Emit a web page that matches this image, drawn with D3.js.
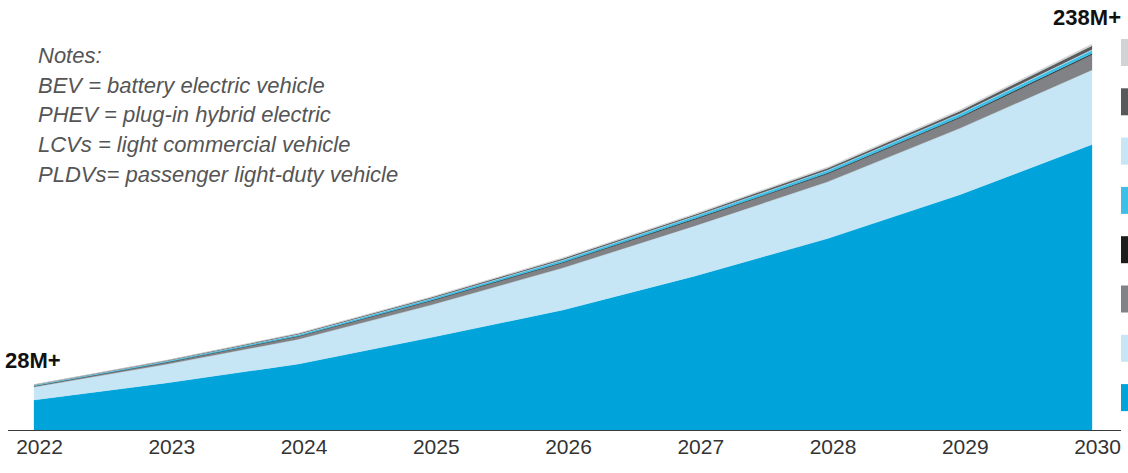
<!DOCTYPE html>
<html>
<head>
<meta charset="utf-8">
<script src="https://cdn.jsdelivr.net/npm/d3@7/dist/d3.min.js"></script>
<style>
  html, body { margin: 0; padding: 0; background: #fff; }
  svg { display: block; font-family: "Liberation Sans", Arial, sans-serif; }
</style>
</head>
<body>
<svg id="chart" width="1128" height="473"></svg>
<script>
// ---- data (millions of vehicles, stacked bottom -> top) ----
const years = [2022, 2023, 2024, 2025, 2026, 2027, 2028, 2029, 2030];
const bevPldv      = [18.5, 29.0, 40.7, 57.0, 74.0, 95.0, 118.0, 145.0, 176.0];
const phevPldv     = [8.0, 11.5, 15.3, 20.0, 26.0, 31.0, 35.0, 41.0, 46.0];
const grayLayer    = [0.6, 1.1, 1.8, 2.6, 3.2, 4.0, 5.0, 6.5, 9.5];
const blackLayer   = [0.1, 0.15, 0.2, 0.25, 0.3, 0.35, 0.4, 0.5, 0.6];
const cyanLayer    = [0.4, 0.6, 0.8, 1.0, 1.2, 1.4, 1.6, 1.8, 2.0];
const lightLayer   = [0.1, 0.15, 0.2, 0.25, 0.3, 0.3, 0.35, 0.4, 0.5];
const darkGrayLayer= [0.2, 0.3, 0.5, 0.6, 0.8, 0.9, 1.1, 1.4, 2.3];
const lightGrayLayer=[0.1, 0.2, 0.3, 0.4, 0.5, 0.6, 0.7, 0.8, 1.1];
const seriesKeys   = ["bevPldv", "phevPldv", "gray", "black", "cyan", "light", "darkGray", "lightGray"];
const seriesValues = [bevPldv, phevPldv, grayLayer, blackLayer, cyanLayer, lightLayer, darkGrayLayer, lightGrayLayer];
const seriesColors = ["#00A3DA", "#C6E6F5", "#808285", "#1D1D1B", "#3CC0E8", "#C6E6F5", "#58595B", "#D1D3D4"];
const notes = ["Notes:", "BEV = battery electric vehicle", "PHEV = plug-in hybrid electric",
               "LCVs = light commercial vehicle", "PLDVs= passenger light-duty vehicle"];
const startLabel = "28M+";
const endLabel = "238M+";

// ---- build table ----
const table = years.map((y, i) => {
  const row = { year: y };
  seriesKeys.forEach((k, j) => row[k] = seriesValues[j][i]);
  return row;
});

const svg = d3.select("#chart");
const x = d3.scaleLinear().domain([2022, 2030]).range([34, 1092]);
const y = d3.scaleLinear().domain([0, 238]).range([430, 44]);

const stack = d3.stack().keys(seriesKeys);
const layers = stack(table);

const area = d3.area()
  .x(d => x(d.data.year))
  .y0(d => y(d[0]))
  .y1(d => y(d[1]))
  .curve(d3.curveLinear);

svg.append("g").selectAll("path")
  .data(layers)
  .join("path")
  .attr("d", area)
  .attr("fill", (d, i) => seriesColors[i])
  .attr("stroke", (d, i) => seriesColors[i])
  .attr("stroke-width", 0.3);

// baseline
svg.append("line")
  .attr("x1", 8).attr("x2", 1121)
  .attr("y1", 430.5).attr("y2", 430.5)
  .attr("stroke", "#3a3a3a").attr("stroke-width", 1);

// x axis labels
const axis = svg.append("g")
  .attr("transform", "translate(5,430)")
  .call(d3.axisBottom(x).tickValues(years).tickFormat(d3.format("d")).tickSize(0).tickPadding(9));
axis.select(".domain").remove();
axis.selectAll("text")
  .attr("font-size", 21)
  .attr("font-family", "Liberation Sans, Arial, sans-serif")
  .attr("fill", "#333");

// legend swatches on the right
svg.append("g").selectAll("rect")
  .data(seriesColors.slice().reverse())
  .join("rect")
  .attr("x", 1121)
  .attr("y", (d, i) => 39 + i * 49.3)
  .attr("width", 10)
  .attr("height", 27)
  .attr("fill", d => d);

// notes
svg.append("g").selectAll("text")
  .data(notes)
  .join("text")
  .attr("x", 38)
  .attr("y", (d, i) => 63 + i * 29.7)
  .attr("font-size", 22)
  .attr("font-style", "italic")
  .attr("fill", "#555")
  .text(d => d);

// value labels
svg.append("text")
  .attr("x", 5).attr("y", 368)
  .attr("font-size", 22).attr("font-weight", "bold")
  .attr("fill", "#111")
  .text(startLabel);
svg.append("text")
  .attr("x", 1121).attr("y", 25)
  .attr("text-anchor", "end")
  .attr("font-size", 22).attr("font-weight", "bold")
  .attr("fill", "#111")
  .text(endLabel);
</script>
</body>
</html>
